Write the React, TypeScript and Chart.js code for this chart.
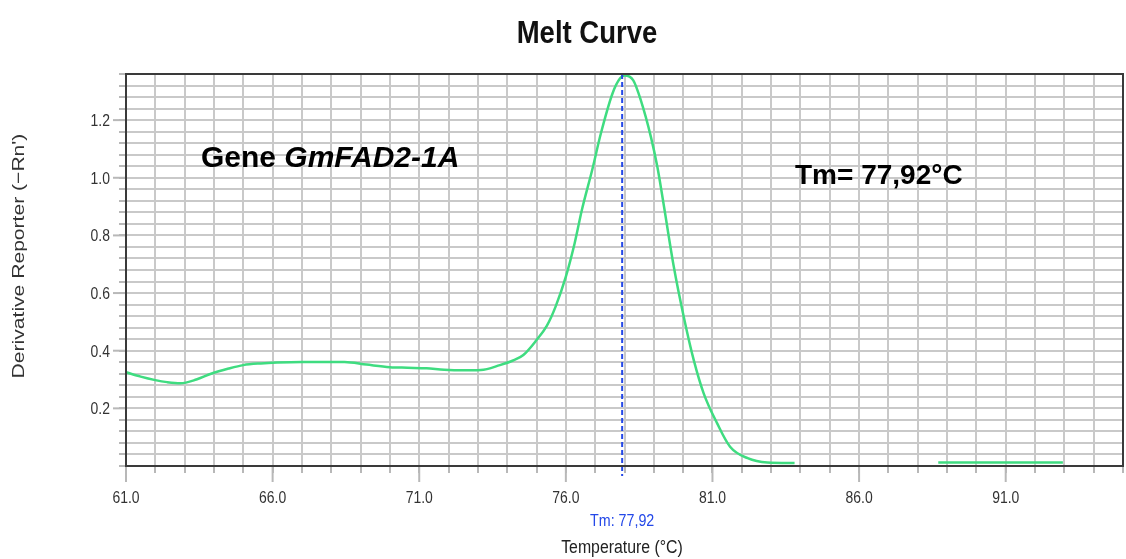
import React, { useEffect, useRef } from 'react';
import { Chart, registerables } from 'chart.js';

Chart.register(...registerables);

// ---- data ----
const temperatures = [
  61.0, 61.5, 62.0, 62.4, 62.85, 63.4, 63.9, 64.5, 65.0, 65.6, 66.15, 67.0, 67.8, 68.45,
  69.2, 70.0, 70.6, 71.25, 71.85, 72.5, 73.1, 73.75, 74.2, 74.55, 75.0, 75.35, 75.65,
  76.0, 76.3, 76.55, 76.9, 77.2, 77.6, 77.85, 78.0, 78.3, 78.55, 78.9, 79.12, 79.3,
  79.68, 80.02, 80.36, 80.7, 81.16, 81.6, 82.2, 82.87, 83.8, 86.0, 88.7, 90.0, 91.5, 92.95,
];
const derivative = [
  0.325, 0.31, 0.298, 0.291, 0.287, 0.3, 0.32, 0.338, 0.35, 0.356, 0.359, 0.361, 0.361, 0.361,
  0.352, 0.343, 0.341, 0.339, 0.334, 0.332, 0.333, 0.35, 0.366, 0.385, 0.437, 0.486, 0.553,
  0.657, 0.773, 0.89, 1.028, 1.156, 1.295, 1.345, 1.355, 1.338, 1.271, 1.142, 1.038, 0.93,
  0.692, 0.518, 0.368, 0.252, 0.148, 0.067, 0.027, 0.012, 0.01, null, 0.012, 0.012, 0.012, 0.012,
];
const xTickLabels = ['61.0', '66.0', '71.0', '76.0', '81.0', '86.0', '91.0'];
const yTickLabels = ['0.2', '0.4', '0.6', '0.8', '1.0', '1.2'];
const xMin = 61;
const xMax = 95;
const xStep = 1;
const yMin = 0;
const yMax = 1.36;
const yStep = 0.04;
const tmValue = 77.92;

const chartTitle = 'Melt Curve';
const xAxisTitle = 'Temperature (°C)';
const yAxisTitle = "Derivative Reporter (−Rn')";
const tmAxisLabel = 'Tm: 77,92';
const geneLabelPlain = 'Gene ';
const geneLabelItalic = 'GmFAD2-1A';
const tmNote = 'Tm= 77,92°C';

const SANS = '"Liberation Sans", Arial, Helvetica, sans-serif';

type TextOpts = {
  font: string;
  color: string;
  align?: CanvasTextAlign;
  baseline?: CanvasTextBaseline;
  sx?: number;
  sy?: number;
  rot?: number;
};

function drawText(ctx: CanvasRenderingContext2D, text: string, x: number, y: number, o: TextOpts) {
  ctx.save();
  ctx.translate(x, y);
  if (o.rot) ctx.rotate(o.rot);
  ctx.scale(o.sx ?? 1, o.sy ?? 1);
  ctx.font = o.font;
  ctx.fillStyle = o.color;
  ctx.textAlign = o.align ?? 'left';
  ctx.textBaseline = o.baseline ?? 'alphabetic';
  ctx.fillText(text, 0, 0);
  ctx.restore();
}

function seg(ctx: CanvasRenderingContext2D, x1: number, y1: number, x2: number, y2: number) {
  ctx.beginPath();
  ctx.moveTo(x1, y1);
  ctx.lineTo(x2, y2);
  ctx.stroke();
}

const overlayPlugin = {
  id: 'meltOverlay',
  afterDatasetsDraw(chart: any) {
    const { ctx, chartArea: a, scales } = chart;
    const xs = scales.x;
    const ys = scales.y;
    ctx.save();
    // longer major tick marks
    ctx.strokeStyle = '#b8b8b8';
    ctx.lineWidth = 2;
    xTickLabels.forEach((l) => {
      const px = xs.getPixelForValue(parseFloat(l));
      seg(ctx, px, a.bottom, px, a.bottom + 16);
    });
    yTickLabels.forEach((l) => {
      const py = ys.getPixelForValue(parseFloat(l));
      seg(ctx, a.left - 13, py, a.left, py);
    });
    // Tm marker
    const tx = xs.getPixelForValue(tmValue);
    ctx.strokeStyle = '#2448e8';
    ctx.lineWidth = 2;
    ctx.setLineDash([5, 3]);
    seg(ctx, tx, a.top, tx, a.bottom + 10);
    ctx.setLineDash([]);
    // frame
    ctx.strokeStyle = '#3a3a3a';
    ctx.lineWidth = 2;
    ctx.strokeRect(a.left, a.top, a.right - a.left, a.bottom - a.top);
    ctx.restore();
  },
  afterDraw(chart: any) {
    const { ctx, chartArea: a, scales } = chart;
    const xs = scales.x;
    const ys = scales.y;
    // tick labels
    xTickLabels.forEach((l) => {
      const px = xs.getPixelForValue(parseFloat(l));
      drawText(ctx, l, px, a.bottom + 37, { font: `17px ${SANS}`, color: '#333', align: 'center', sx: 0.82 });
    });
    yTickLabels.forEach((l) => {
      const py = ys.getPixelForValue(parseFloat(l));
      drawText(ctx, l, a.left - 16, py + 6, { font: `17px ${SANS}`, color: '#333', align: 'right', sx: 0.82 });
    });
    // title
    drawText(ctx, chartTitle, 587, 43, { font: `bold 32px ${SANS}`, color: '#111', align: 'center', sx: 0.86 });
    // axis titles
    const tx = xs.getPixelForValue(tmValue);
    drawText(ctx, tmAxisLabel, tx, 526, { font: `17px ${SANS}`, color: '#2448e8', align: 'center', sx: 0.84 });
    drawText(ctx, xAxisTitle, 622, 553, { font: `18px ${SANS}`, color: '#222', align: 'center', sx: 0.88 });
    drawText(ctx, yAxisTitle, 24, 256, {
      font: `17px ${SANS}`,
      color: '#333',
      align: 'center',
      sx: 1.24,
      rot: -Math.PI / 2,
    });
    // annotations
    ctx.save();
    ctx.font = `bold 30px ${SANS}`;
    const w = ctx.measureText(geneLabelPlain).width;
    ctx.restore();
    drawText(ctx, geneLabelPlain, 201, 167, { font: `bold 30px ${SANS}`, color: '#000' });
    drawText(ctx, geneLabelItalic, 201 + w, 167, { font: `italic bold 30px ${SANS}`, color: '#000' });
    drawText(ctx, tmNote, 795, 184, { font: `bold 28px ${SANS}`, color: '#000' });
  },
};

export default function App() {
  const ref = useRef<HTMLCanvasElement | null>(null);
  useEffect(() => {
    if (!ref.current) return;
    const points = temperatures.map((t, i) => ({ x: t, y: derivative[i] }));
    const gridCommon = {
      color: '#c9c9c9',
      lineWidth: 2,
      tickLength: 7,
      tickColor: '#b8b8b8',
      tickWidth: 2,
    };
    const chart = new Chart(ref.current, {
      type: 'line',
      data: {
        datasets: [
          {
            data: points as any,
            borderColor: '#3fdc80',
            borderWidth: 2.5,
            pointRadius: 0,
            fill: false,
            spanGaps: false,
            cubicInterpolationMode: 'monotone',
          },
        ],
      },
      options: {
        animation: false,
        responsive: false,
        maintainAspectRatio: false,
        layout: { padding: { top: 74, right: 3, left: 0, bottom: 0 } },
        plugins: {
          legend: { display: false },
          tooltip: { enabled: false },
          title: { display: false },
        },
        scales: {
          x: {
            type: 'linear',
            min: xMin,
            max: xMax,
            ticks: { stepSize: xStep, display: false, autoSkip: false },
            grid: gridCommon,
            border: { display: false },
            afterFit: (s: any) => {
              s.height = 93;
            },
          },
          y: {
            type: 'linear',
            min: yMin,
            max: yMax,
            ticks: { stepSize: yStep, display: false, autoSkip: false },
            grid: gridCommon,
            border: { display: false },
            afterFit: (s: any) => {
              s.width = 126;
            },
          },
        },
      } as any,
      plugins: [overlayPlugin],
    });
    return () => chart.destroy();
  }, []);
  return (
    <div style={{ position: 'fixed', left: 0, top: 0, width: 1126, height: 559, background: '#fff' }}>
      <canvas ref={ref} width={1126} height={559} style={{ display: 'block' }} />
    </div>
  );
}
